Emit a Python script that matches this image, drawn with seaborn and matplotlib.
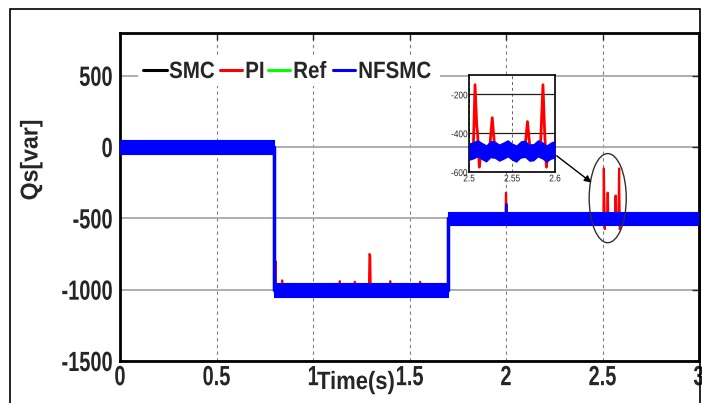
import numpy as np
import matplotlib
matplotlib.use("Agg")
import matplotlib.pyplot as plt
from matplotlib.patches import Ellipse, Rectangle
from matplotlib.lines import Line2D
from matplotlib.patheffects import AbstractPathEffect
from matplotlib.transforms import Affine2D
import seaborn as sns

# ---- data -------------------------------------------------------------
# reference reactive power steps (start/end times and levels)
step_times = [0.0, 0.8, 1.7, 3.0]
ref_levels = [0, -1000, -500]
band_halfwidth = 48          # chattering amplitude of the NFSMC response

# NFSMC disturbance at the 2 s instant
nf_spike_t = [2.0, 2.0]
nf_spike_q = [-500, -400]

# PI response knots (baseline follows the reference, with transient spikes)
pi_t = [0.000, 0.800, 0.800, 0.804, 0.806, 0.808, 0.838, 0.840, 0.842,
        1.137, 1.139, 1.141, 1.215, 1.217, 1.219, 1.290, 1.293, 1.296,
        1.299, 1.398, 1.400, 1.402, 1.553, 1.555, 1.557, 1.700, 1.700,
        1.997, 2.000, 2.003, 2.505, 2.507, 2.509, 2.510, 2.512, 2.514,
        2.524, 2.527, 2.530, 2.565, 2.568, 2.571, 2.583, 2.586, 2.588,
        2.590, 2.592, 3.000]
pi_q = [0, 0, -1000, -1000, -800, -1000, -1000, -935, -1000,
        -1000, -940, -1000, -1000, -945, -1000, -1000, -750, -760,
        -1000, -1000, -940, -1000, -1000, -945, -1000, -1000, -500,
        -500, -320, -500, -480, -150, -360, -400, -575, -490,
        -480, -320, -480, -480, -340, -480, -480, -150, -400,
        -575, -490, -500]

# NFSMC centre line inside the zoom window 2.5 s .. 2.6 s
zoom_t = [2.500, 2.505, 2.510, 2.515, 2.520, 2.525, 2.530, 2.535, 2.540,
          2.545, 2.550, 2.555, 2.560, 2.565, 2.570, 2.575, 2.580, 2.585,
          2.590, 2.595, 2.600]
zoom_q = [-495, -488, -478, -492, -504, -482, -485, -500, -490,
          -478, -495, -505, -484, -480, -500, -498, -478, -488,
          -505, -490, -482]

series_names = ["SMC", "PI", "Ref", "NFSMC"]
x_ticks = [0, 0.5, 1, 1.5, 2, 2.5, 3]
x_tick_labels = ["0", "0.5", "1", "1.5", "2", "2.5", "3"]
y_ticks = [-1500, -1000, -500, 0, 500]
zoom_x_ticks = [2.5, 2.55, 2.6]
zoom_x_labels = ["2.5", "2.55", "2.6"]
zoom_y_ticks = [-600, -400, -200]


# ---- condensed lettering ----------------------------------------------
class Narrow(AbstractPathEffect):
    """Squeeze glyphs horizontally around a chosen anchor."""

    def __init__(self, sx, anchor="center"):
        super().__init__()
        self.sx = sx
        self.anchor = anchor

    def draw_path(self, renderer, gc, tpath, affine, rgbFace=None):
        ext = tpath.get_extents()
        cx = {"left": ext.x0, "center": 0.5 * (ext.x0 + ext.x1),
              "right": ext.x1}[self.anchor]
        t = Affine2D().translate(-cx, 0).scale(self.sx, 1).translate(cx, 0) + affine
        renderer.draw_path(gc, tpath, t, rgbFace)


# ---- styling ----------------------------------------------------------
sns.set_style("white")
plt.rcParams["font.family"] = ["Liberation Sans", "DejaVu Sans"]
plt.rcParams["font.weight"] = "bold"
plt.rcParams["axes.unicode_minus"] = False

C_SMC, C_PI, C_REF, C_NF = "#000000", "#ff0000", "#00ff00", "#0000ff"
colors = [C_SMC, C_PI, C_REF, C_NF]

W, H = 702, 403
fig = plt.figure(figsize=(W / 100, H / 100), dpi=100)
fig.patch.set_facecolor("white")
ax = fig.add_axes([120 / W, 1 - 361 / H, 579 / W, 328 / H])


def fx(px):
    return px / W


def fy(py):
    return 1 - py / H


# reference step as a polyline
ref_t, ref_q = [], []
for i, lvl in enumerate(ref_levels):
    ref_t += [step_times[i], step_times[i + 1]]
    ref_q += [lvl, lvl]

sns.lineplot(x=ref_t, y=ref_q, color=C_SMC, lw=1.5, ax=ax,
             estimator=None, sort=False)
sns.lineplot(x=ref_t, y=ref_q, color=C_REF, lw=1.5, ax=ax,
             estimator=None, sort=False)
sns.lineplot(x=pi_t, y=pi_q, color=C_PI, lw=1.6, ax=ax,
             estimator=None, sort=False)

# NFSMC: chattering band around each level plus the vertical transitions
for i, lvl in enumerate(ref_levels):
    ax.fill_between([step_times[i], step_times[i + 1]],
                    [lvl - band_halfwidth] * 2, [lvl + band_halfwidth] * 2,
                    color=C_NF, lw=0.8, edgecolor=C_NF, zorder=4)
sns.lineplot(x=ref_t, y=ref_q, color=C_NF, lw=2.5, ax=ax,
             estimator=None, sort=False, zorder=4)
sns.lineplot(x=nf_spike_t, y=nf_spike_q, color=C_NF, lw=2.0, ax=ax,
             estimator=None, sort=False, zorder=4)

ax.set_xlim(0, 3)
ax.set_ylim(-1500, 800)
ax.set_xticks(x_ticks)
ax.set_xticklabels(x_tick_labels)
ax.set_yticks(y_ticks)
ax.set_xlabel("")
ax.set_ylabel("")
ax.tick_params(direction="in", length=5, width=1, top=True, right=True,
               labelsize=20)
ax.tick_params(axis="x", pad=3)
ax.tick_params(axis="y", pad=5)
for lab in ax.get_xticklabels():
    lab.set_fontweight("bold")
    lab.set_path_effects([Narrow(0.72, "center")])
for lab in ax.get_yticklabels():
    lab.set_fontweight("bold")
    lab.set_path_effects([Narrow(0.72, "right")])
for s in ax.spines.values():
    s.set_linewidth(2)
    s.set_color("black")

ax.yaxis.grid(True, color="#a8a8a8", lw=1.3, ls="-")
ax.xaxis.grid(True, color="#808080", lw=0.8, ls=(0, (3, 3)))
ax.set_axisbelow(True)

# legend strip across the top: white backing, short handles, labels
fig.patches.append(Rectangle((fx(138), fy(86)), fx(440) - fx(138), fy(58) - fy(86),
                             transform=fig.transFigure, facecolor="white",
                             edgecolor="none", zorder=6))
handle_x = [(143, 167), (220, 242), (268, 290), (333, 355)]
label_x = [169, 245, 293, 358]
for name, col, (h0, h1), lx in zip(series_names, colors, handle_x, label_x):
    fig.add_artist(Line2D([fx(h0), fx(h1)], [fy(70), fy(70)], color=col,
                          lw=2.2, transform=fig.transFigure, zorder=7))
    fig.text(fx(lx), fy(78), name, ha="left", va="baseline", fontsize=17,
             fontweight="bold", zorder=7,
             path_effects=[Narrow(0.87, "left")])

# ellipse marking the zoomed interval and the pointer arrow
ax.add_patch(Ellipse((2.527, -358), 0.192, 625, fill=False,
                     edgecolor="#303030", lw=1.0, zorder=7))
ax.annotate("", xy=(2.454, -260), xytext=(2.251, -49),
            arrowprops=dict(arrowstyle="-|>", color="black", lw=1.0,
                            mutation_scale=10), zorder=7)

# zoom inset 2.5 s .. 2.6 s
ins = fig.add_axes([fx(469), fy(172), 86 / W, 97 / H])
ins.set_facecolor("white")
zq = np.array(zoom_q)
ins.fill_between(zoom_t, zq - 45, zq + 45, color=C_NF, lw=0, zorder=3)
sns.lineplot(x=pi_t, y=pi_q, color=C_PI, lw=2.0, ax=ins,
             estimator=None, sort=False, zorder=2)
ins.set_xlim(2.5, 2.6)
ins.set_ylim(-600, -100)
ins.set_xticks(zoom_x_ticks)
ins.set_xticklabels(zoom_x_labels)
ins.set_yticks(zoom_y_ticks)
ins.set_xlabel("")
ins.set_ylabel("")
ins.tick_params(direction="in", length=2, width=0.8, labelsize=7, pad=1)
for lab in ins.get_xticklabels():
    lab.set_fontweight("normal")
    lab.set_path_effects([Narrow(0.85, "center")])
for lab in ins.get_yticklabels():
    lab.set_fontweight("normal")
    lab.set_path_effects([Narrow(0.85, "right")])
ins.yaxis.grid(True, color="#202020", lw=0.9, ls="-")
ins.xaxis.grid(True, color="#606060", lw=0.7, ls=(0, (3, 3)))
ins.set_axisbelow(True)
for s in ins.spines.values():
    s.set_linewidth(1.2)
    s.set_color("black")

# axis titles
fig.text(fx(356), fy(389), "Time(s)", ha="center", va="baseline",
         fontsize=18, fontweight="bold", path_effects=[Narrow(0.88, "center")])
fig.text(fx(31), fy(160), "Qs[var]", ha="center", va="center",
         rotation=90, fontsize=17.5, fontweight="bold",
         path_effects=[Narrow(0.95, "center")])

# outer frame
fig.patches.append(Rectangle((fx(10), -0.1), fx(700) - fx(10), 1.1 - 9 / H,
                             transform=fig.transFigure, fill=False,
                             edgecolor="black", lw=1.2))

fig.savefig("out.png", dpi=100, facecolor="white")
